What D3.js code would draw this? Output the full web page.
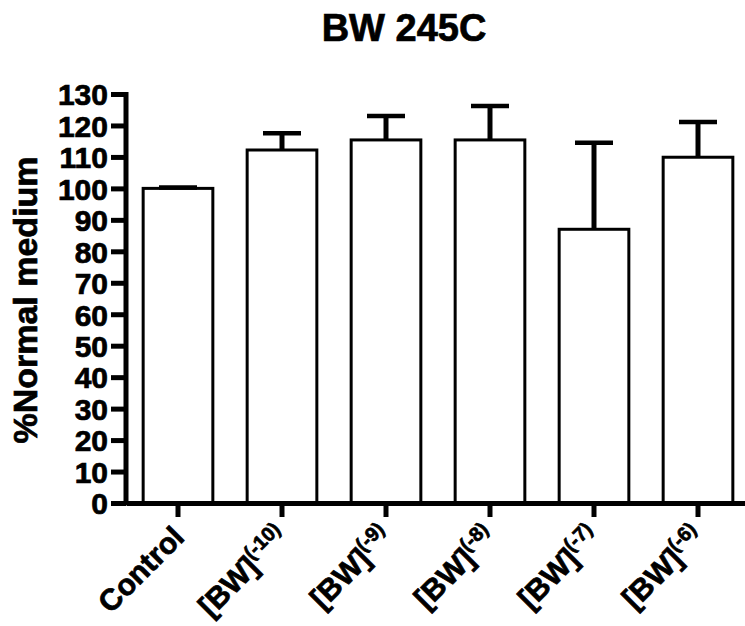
<!DOCTYPE html>
<html>
<head>
<meta charset="utf-8">
<script src="https://cdn.jsdelivr.net/npm/d3@7"></script>
<style>
  body { margin: 0; background: #fff; }
  svg { display: block; font-family: Arial, "Liberation Sans", sans-serif; font-weight: bold; }
  text { stroke: #000; stroke-width: 0.7px; }
</style>
</head>
<body>
<svg id="chart"></svg>
<script>
var categories = ['Control', '[BW]', '[BW]', '[BW]', '[BW]', '[BW]'];
var exponents = ['', '(-10)', '(-9)', '(-8)', '(-7)', '(-6)'];
var means = [100, 112.2, 115.4, 115.4, 87.0, 109.9];
var errors = [0.3, 5.3, 7.6, 10.8, 27.5, 11.2];
var yTicks = [0, 10, 20, 30, 40, 50, 60, 70, 80, 90, 100, 110, 120, 130];

document.addEventListener('DOMContentLoaded', () => {
  var width = 745, height = 626;
  var keys = categories.map((c, i) => i);

  var svg = d3.select('#chart')
    .attr('width', width)
    .attr('height', height);

  var x = d3.scaleBand()
    .domain(keys)
    .range([126, 750])
    .paddingInner(0.33)
    .paddingOuter(0.165);

  var y = d3.scaleLinear()
    .domain([0, 130])
    .range([503, 94]);

  // title
  svg.append('text')
    .attr('x', 404)
    .attr('y', 41)
    .attr('text-anchor', 'middle')
    .attr('font-size', 38)
    .text('BW 245C');

  // y label
  svg.append('text')
    .attr('transform', 'translate(37, 300) rotate(-90)')
    .attr('text-anchor', 'middle')
    .attr('font-size', 34)
    .text('%Normal medium');

  // bars
  svg.selectAll('.bar')
    .data(keys)
    .enter().append('rect')
      .attr('class', 'bar')
      .attr('x', i => x(i))
      .attr('y', i => y(means[i]))
      .attr('width', x.bandwidth())
      .attr('height', i => y(0) - y(means[i]))
      .attr('fill', '#fff')
      .attr('stroke', '#000')
      .attr('stroke-width', 3);

  // error bars (upper only)
  var err = svg.selectAll('.err')
    .data(keys)
    .enter().append('g')
      .attr('class', 'err');

  err.append('line')
    .attr('x1', i => x(i) + x.bandwidth() / 2)
    .attr('x2', i => x(i) + x.bandwidth() / 2)
    .attr('y1', i => y(means[i]))
    .attr('y2', i => y(means[i] + errors[i]))
    .attr('stroke', '#000')
    .attr('stroke-width', 5);

  err.append('line')
    .attr('x1', i => x(i) + x.bandwidth() / 2 - 19)
    .attr('x2', i => x(i) + x.bandwidth() / 2 + 19)
    .attr('y1', i => y(means[i] + errors[i]))
    .attr('y2', i => y(means[i] + errors[i]))
    .attr('stroke', '#000')
    .attr('stroke-width', 4.5);

  // y axis
  var yAxis = d3.axisLeft(y)
    .tickValues(yTicks)
    .tickSize(15)
    .tickSizeOuter(0)
    .tickPadding(3);

  var gy = svg.append('g')
    .attr('transform', 'translate(126, 0)')
    .call(yAxis);
  gy.select('.domain').attr('stroke-width', 5).attr('d', `M0,${ y(130) - 2 }V${ y(0) + 2 }`);
  gy.selectAll('.tick line').attr('stroke-width', 5);
  gy.selectAll('.tick text')
    .attr('font-size', 30)
    .attr('font-family', 'Arial, "Liberation Sans", sans-serif')
    .attr('font-weight', 'bold')
    .attr('fill', '#000')
    .attr('dy', '0.36em');

  // x axis
  var xAxis = d3.axisBottom(x)
    .tickSize(14)
    .tickSizeOuter(0)
    .tickFormat('');

  var gx = svg.append('g')
    .attr('transform', `translate(0, ${ y(0) })`)
    .call(xAxis);
  gx.select('.domain').attr('stroke-width', 5);
  gx.selectAll('.tick line').attr('stroke-width', 5);

  // rotated category labels
  var lab = svg.selectAll('.xlab')
    .data(keys)
    .enter().append('text')
      .attr('class', 'xlab')
      .attr('text-anchor', 'end')
      .attr('font-size', 30)
      .attr('transform', i => `translate(${ x(i) + x.bandwidth() / 2 + 8 }, ${ y(0) + 36 }) rotate(-45)`);

  lab.append('tspan')
    .text(i => categories[i]);

  lab.append('tspan')
    .attr('dy', -12)
    .attr('font-size', 20)
    .text(i => exponents[i]);
});
</script>
</body>
</html>
